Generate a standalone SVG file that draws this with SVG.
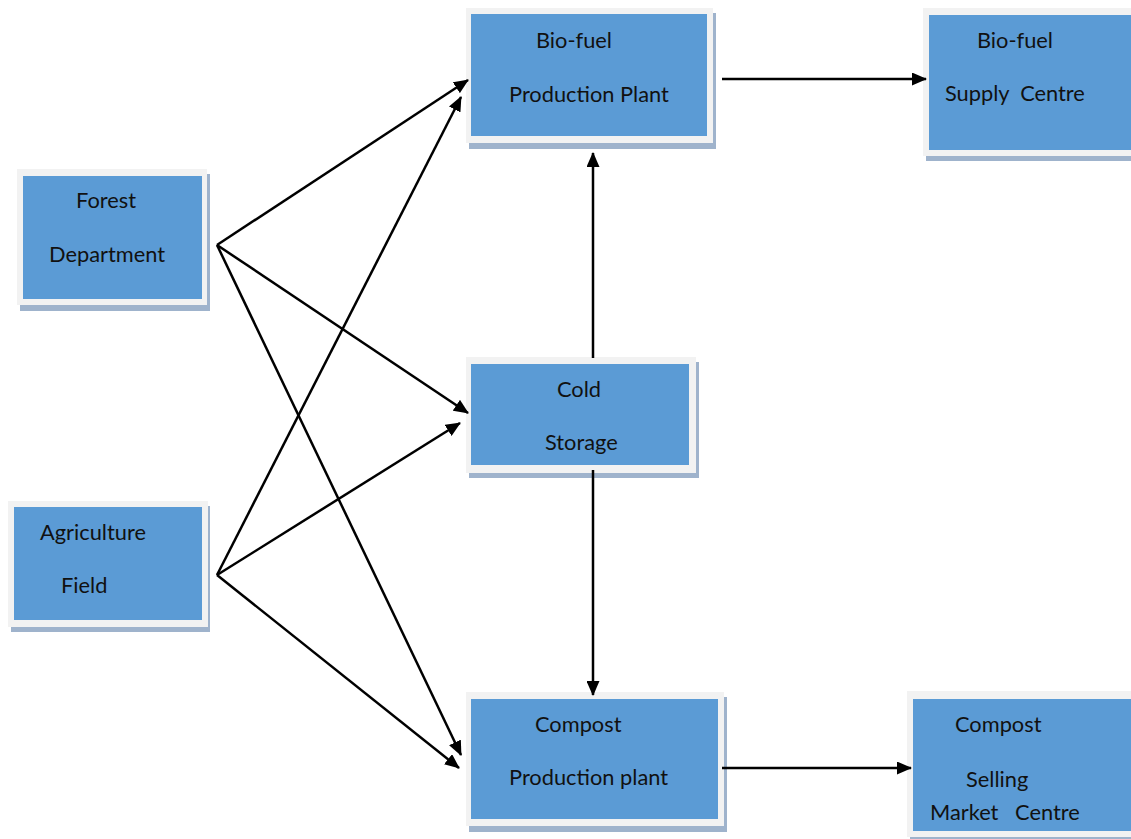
<svg xmlns="http://www.w3.org/2000/svg" width="1131" height="839" viewBox="0 0 1131 839">
<style>
.sh{fill:#9fb3cc}
.fr{fill:#f2f2f2}
.bx{fill:#5b9bd5}
text{font-family:Lato,"Liberation Sans",sans-serif;font-size:21.8px;fill:#111;white-space:pre}
.c line{stroke:#000;stroke-width:2.5;marker-end:url(#ah)}
</style>
<defs>
<marker id="ah" viewBox="0 0 15 13" refX="14" refY="6.5" markerWidth="15" markerHeight="13" markerUnits="userSpaceOnUse" orient="auto">
<path d="M0,0 L15,6.5 L0,13 Z" fill="#000"/>
</marker>
</defs>
<rect width="1131" height="839" fill="#fff"/>

<g id="bio-fuel-plant">
<rect class="sh" x="469" y="13" width="247" height="136"/>
<rect class="fr" x="466" y="8" width="247" height="135"/>
<rect class="bx" x="471" y="14" width="236" height="122"/>
<text x="536" y="48">Bio-fuel</text>
<text x="509" y="102">Production Plant</text>
</g>

<g id="bio-fuel-supply">
<rect class="sh" x="926" y="13" width="210" height="148"/>
<rect class="fr" x="923" y="8" width="210" height="148"/>
<rect class="bx" x="929" y="15" width="205" height="135"/>
<text x="977" y="48">Bio-fuel</text>
<text x="945" y="101" xml:space="preserve">Supply  Centre</text>
</g>

<g id="forest">
<rect class="sh" x="20" y="174" width="190" height="137"/>
<rect class="fr" x="17" y="169" width="190" height="136"/>
<rect class="bx" x="23" y="176" width="179" height="123"/>
<text x="76" y="208">Forest</text>
<text x="49" y="262">Department</text>
</g>

<g id="agriculture">
<rect class="sh" x="11" y="506" width="199" height="126"/>
<rect class="fr" x="8" y="501" width="200" height="126"/>
<rect class="bx" x="14" y="507" width="188" height="113"/>
<text x="40" y="540">Agriculture</text>
<text x="61" y="593">Field</text>
</g>

<g id="cold-storage">
<rect class="sh" x="469" y="362" width="230" height="116"/>
<rect class="fr" x="466" y="357" width="230" height="116"/>
<rect class="bx" x="471" y="364" width="218" height="101"/>
<text x="557" y="397">Cold</text>
<text x="545" y="450">Storage</text>
</g>

<g id="compost-plant">
<rect class="sh" x="469" y="697" width="258" height="135"/>
<rect class="fr" x="466" y="692" width="258" height="134"/>
<rect class="bx" x="471" y="699" width="247" height="120"/>
<text x="535" y="732">Compost</text>
<text x="509" y="785">Production plant</text>
</g>

<g id="compost-market">
<rect class="sh" x="910" y="696" width="230" height="150"/>
<rect class="fr" x="907" y="691" width="230" height="146"/>
<rect class="bx" x="913" y="699" width="220" height="132"/>
<text x="955" y="732">Compost</text>
<text x="966" y="787">Selling</text>
<text x="930" y="820" xml:space="preserve">Market   Centre</text>
</g>

<g id="connectors" class="c">
<line x1="217" y1="245" x2="468" y2="80"/>
<line x1="217" y1="245" x2="468" y2="413"/>
<line x1="217" y1="245" x2="461" y2="755"/>
<line x1="217" y1="575" x2="461" y2="97"/>
<line x1="217" y1="575" x2="460" y2="423"/>
<line x1="217" y1="575" x2="459" y2="768"/>
<line x1="593" y1="358" x2="593" y2="153"/>
<line x1="593" y1="470" x2="593" y2="695"/>
<line x1="722" y1="79" x2="926" y2="79"/>
<line x1="722" y1="768" x2="911" y2="768"/>
</g>
</svg>
